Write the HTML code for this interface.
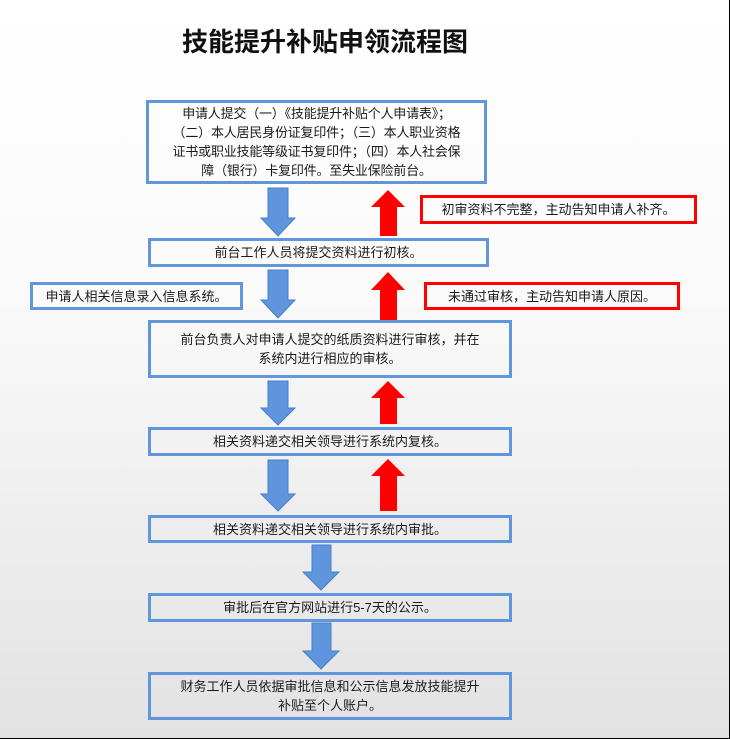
<!DOCTYPE html>
<html><head><meta charset="utf-8"><style>
body{margin:0;width:730px;height:739px;overflow:hidden;}
.pg{position:relative;width:729px;height:738px;border-right:1px solid #000;border-bottom:1px solid #000;background:linear-gradient(#fff 0%,#fafafa 40%,#e2e2e2 100%);font-family:"Liberation Sans","Noto Sans CJK SC",sans-serif;color:#1a1a1a;}
.t{position:absolute;left:0;width:650px;top:22px;text-align:center;font-size:26px;font-weight:bold;color:#111;}
.b{position:absolute;box-sizing:border-box;border:3px solid #6096dc;background:transparent;display:flex;align-items:center;justify-content:center;text-align:center;font-size:13px;line-height:19px;padding:0 6px;}
.r{border:3px solid #f00;}
svg{position:absolute;left:0;top:0;}
</style></head><body><div class="pg">
<div class="t">技能提升补贴申领流程图</div>
<svg width="730" height="739">
<g fill="#5e95dd" stroke="#4a7fc8" stroke-width="1">
<polygon points="268,188 288,188 288,218 295,218 278,236 261,218 268,218"/>
<polygon points="268,270 288,270 288,300 295,300 278,318 261,300 268,300"/>
<polygon points="268,381 288,381 288,408 295,408 278,425 261,408 268,408"/>
<polygon points="268,460 288,460 288,494 295,494 278,511 261,494 268,494"/>
<polygon points="312,545 331,545 331,572 339,572 321,590 303,572 312,572"/>
<polygon points="312,623 331,623 331,651 339,651 321,669 303,651 312,651"/>
</g>
<g fill="#f00">
<polygon points="380,236 397,236 397,207 405,207 388,190 371,207 380,207"/>
<polygon points="380,320 397,320 397,290 405,290 388,272 371,290 380,290"/>
<polygon points="380,424 397,424 397,398 405,398 388,381 371,398 380,398"/>
<polygon points="380,511 397,511 397,476 405,476 388,459 371,476 380,476"/>
</g>
</svg>
<div class="b" style="left:146px;top:100px;width:341px;height:84px;letter-spacing:-0.2px;">申请人提交（一）《技能提升补贴个人申请表》；<br>（二）本人居民身份证复印件；（三）本人职业资格<br>证书或职业技能等级证书复印件；（四）本人社会保<br>障（银行）卡复印件。至失业保险前台。</div>
<div class="b" style="left:148px;top:238px;width:341px;height:29px;">前台工作人员将提交资料进行初核。</div>
<div class="b" style="left:30px;top:282px;width:213px;height:28px;">申请人相关信息录入信息系统。</div>
<div class="b" style="left:148px;top:320px;width:364px;height:58px;">前台负责人对申请人提交的纸质资料进行审核，并在<br>系统内进行相应的审核。</div>
<div class="b" style="left:148px;top:427px;width:364px;height:29px;">相关资料递交相关领导进行系统内复核。</div>
<div class="b" style="left:148px;top:515px;width:364px;height:28px;">相关资料递交相关领导进行系统内审批。</div>
<div class="b" style="left:148px;top:593px;width:364px;height:29px;">审批后在官方网站进行5-7天的公示。</div>
<div class="b" style="left:148px;top:672px;width:364px;height:48px;">财务工作人员依据审批信息和公示信息发放技能提升<br>补贴至个人账户。</div>
<div class="b r" style="left:420px;top:195px;width:277px;height:29px;">初审资料不完整，主动告知申请人补齐。</div>
<div class="b r" style="left:424px;top:282px;width:256px;height:28px;">未通过审核，主动告知申请人原因。</div>
</div></body></html>
